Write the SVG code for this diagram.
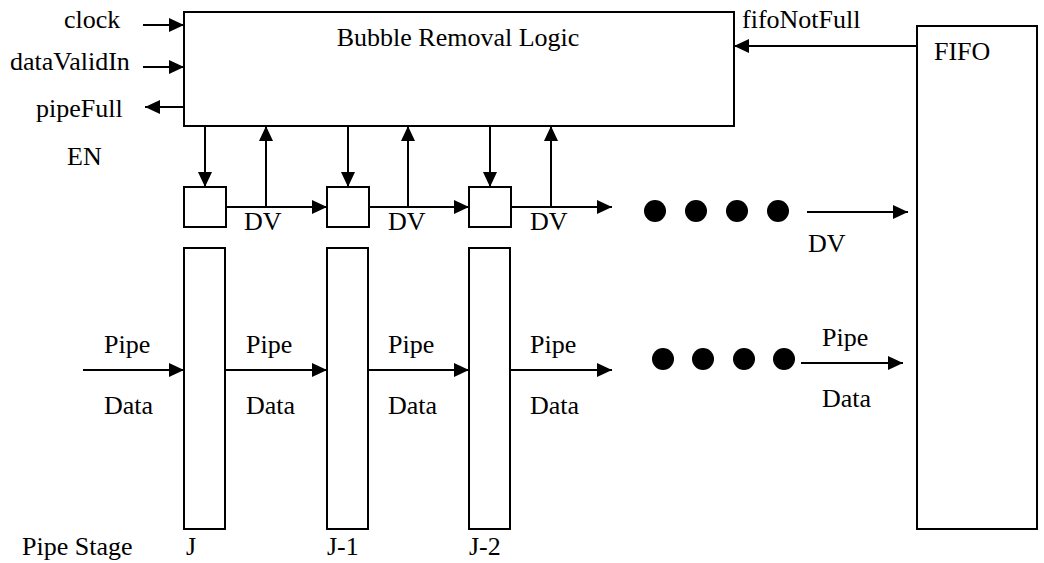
<svg xmlns="http://www.w3.org/2000/svg" width="1044" height="563" viewBox="0 0 1044 563">
<defs>
<marker id="ah" markerUnits="userSpaceOnUse" viewBox="0 0 15 14" markerWidth="15" markerHeight="14" refX="15" refY="7" orient="auto">
<path d="M0,0 L15,7 L0,14 z" fill="#000"/>
</marker>
<style>
.t{font-family:"Liberation Serif","Times New Roman",serif;font-size:26px;fill:#000}
.b{fill:#fff;stroke:#000;stroke-width:2}
.a{fill:none;stroke:#000;stroke-width:2;marker-end:url(#ah)}
.d{fill:#000}
</style>
</defs>
<rect width="1044" height="563" fill="#fff"/>
<g id="logic">
<rect class="b" x="184" y="12" width="550" height="114"/>
<text class="t" x="458" y="46" text-anchor="middle">Bubble Removal Logic</text>
</g>
<g id="fifo">
<rect class="b" x="917" y="26" width="120" height="503"/>
<text class="t" x="934" y="60">FIFO</text>
</g>
<g id="en1"><rect class="b" x="184" y="187" width="42" height="40"/></g>
<g id="en2"><rect class="b" x="327" y="187" width="42" height="40"/></g>
<g id="en3"><rect class="b" x="469" y="187" width="42" height="40"/></g>
<g id="stageJ"><rect class="b" x="184" y="248" width="41" height="281"/></g>
<g id="stageJ1"><rect class="b" x="327" y="248" width="41" height="281"/></g>
<g id="stageJ2"><rect class="b" x="469" y="248" width="41" height="281"/></g>
<g id="dotsTop">
<circle class="d" cx="655" cy="211" r="11"/><circle class="d" cx="696" cy="211" r="11"/><circle class="d" cx="737" cy="211" r="11"/><circle class="d" cx="778" cy="211" r="11"/>
</g>
<g id="dotsBottom">
<circle class="d" cx="663" cy="359" r="11"/><circle class="d" cx="703" cy="359" r="11"/><circle class="d" cx="744" cy="359" r="11"/><circle class="d" cx="784" cy="359" r="11"/>
</g>
<g id="connectors">
<line class="a" x1="143" y1="25" x2="184" y2="25"/>
<line class="a" x1="143" y1="67" x2="184" y2="67"/>
<line class="a" x1="184" y1="107" x2="145" y2="107"/>
<line class="a" x1="917" y1="46" x2="734" y2="46"/>
<line class="a" x1="205" y1="126" x2="205" y2="187"/>
<line class="a" x1="348" y1="126" x2="348" y2="187"/>
<line class="a" x1="490" y1="126" x2="490" y2="187"/>
<line class="a" x1="266" y1="207" x2="266" y2="126"/>
<line class="a" x1="408" y1="207" x2="408" y2="126"/>
<line class="a" x1="551" y1="207" x2="551" y2="126"/>
<line class="a" x1="226" y1="207" x2="327" y2="207"/>
<line class="a" x1="369" y1="207" x2="469" y2="207"/>
<line class="a" x1="511" y1="207" x2="612" y2="207"/>
<line class="a" x1="807" y1="212" x2="908" y2="212"/>
<line class="a" x1="83" y1="370" x2="184" y2="370"/>
<line class="a" x1="225" y1="370" x2="327" y2="370"/>
<line class="a" x1="368" y1="370" x2="469" y2="370"/>
<line class="a" x1="510" y1="370" x2="612" y2="370"/>
<line class="a" x1="801" y1="363" x2="903" y2="363"/>
</g>
<g id="labels">
<text class="t" x="64" y="28">clock</text>
<text class="t" x="10" y="70">dataValidIn</text>
<text class="t" x="36" y="117">pipeFull</text>
<text class="t" x="67" y="165">EN</text>
<text class="t" x="742" y="28">fifoNotFull</text>
<text class="t" x="244" y="230">DV</text>
<text class="t" x="388" y="230">DV</text>
<text class="t" x="530" y="230">DV</text>
<text class="t" x="808" y="252">DV</text>
<text class="t" x="104" y="353">Pipe</text>
<text class="t" x="104" y="414">Data</text>
<text class="t" x="246" y="353">Pipe</text>
<text class="t" x="246" y="414">Data</text>
<text class="t" x="388" y="353">Pipe</text>
<text class="t" x="388" y="414">Data</text>
<text class="t" x="530" y="353">Pipe</text>
<text class="t" x="530" y="414">Data</text>
<text class="t" x="822" y="346">Pipe</text>
<text class="t" x="822" y="407">Data</text>
<text class="t" x="22" y="555">Pipe Stage</text>
<text class="t" x="186" y="555">J</text>
<text class="t" x="327" y="555">J-1</text>
<text class="t" x="469" y="555">J-2</text>
</g>
</svg>
